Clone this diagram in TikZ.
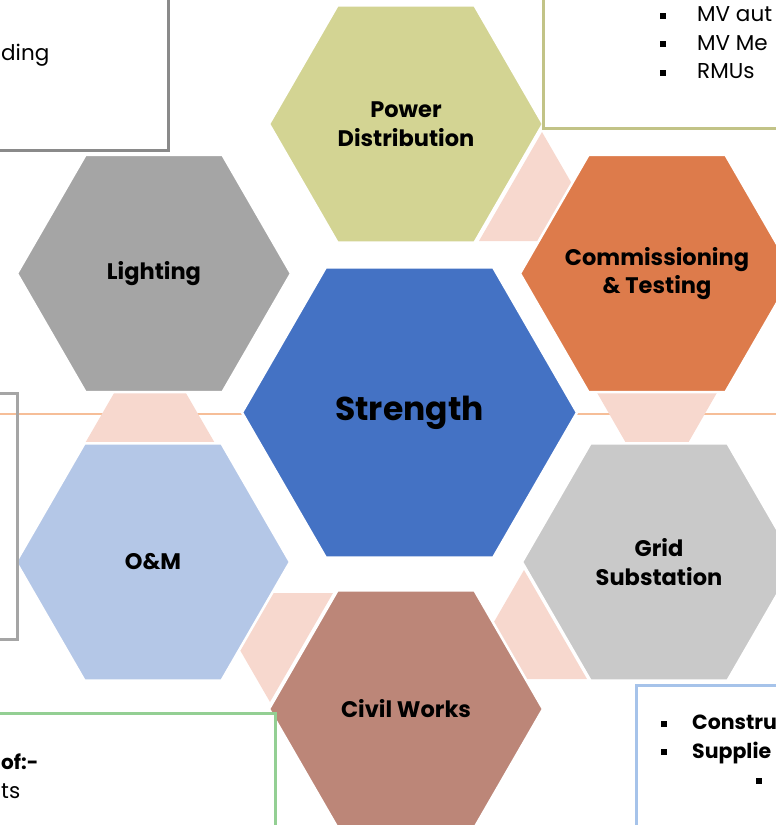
\documentclass[tikz,border=0pt]{standalone}
\usepackage{fontspec}
\setmainfont{Poppins}
\usetikzlibrary{shapes.geometric}
\definecolor{powerclr}{HTML}{D3D493}
\definecolor{lightclr}{HTML}{A5A5A5}
\definecolor{commclr}{HTML}{DD7B4B}
\definecolor{strclr}{HTML}{4472C4}
\definecolor{omclr}{HTML}{B4C7E7}
\definecolor{gridclr}{HTML}{C9C9C9}
\definecolor{civilclr}{HTML}{BC8678}
\definecolor{gapclr}{HTML}{F7D8CE}
\definecolor{lineclr}{HTML}{F6BE98}
\definecolor{boxgray}{HTML}{8A8A8A}
\definecolor{boxgreen}{HTML}{93CF93}
\definecolor{boxblue}{HTML}{A6C3EA}
\tikzset{%
    hexcell/.style={regular polygon, regular polygon sides=6, minimum size=274pt,
      inner sep=0pt, draw=white, line width=2.5pt},
    hexlabel/.style={inner sep=0pt, align=center,
      font=\bfseries\fontsize{22.5}{28.5}\selectfont},
    sidebox/.style={line width=3pt},
    boxtext/.style={inner sep=0pt, align=left, font=\fontsize{21.5}{28.5}\selectfont}
}
\newcommand{\sqbul}{\rule[0.25ex]{6pt}{6pt}}

\begin{document}
\begin{tikzpicture}[x=1pt,y=-1pt]
      \useasboundingbox (0,0) rectangle (776,825);
      \clip (0,0) rectangle (776,825);

      \draw[lineclr,line width=2pt] (0,413.5) -- (776,413.5);

      \fill[gapclr] (542,132) -- (479,241) -- (605,241) -- cycle;
      \fill[gapclr] (588,377) -- (726,377) -- (657,497) -- cycle;
      \fill[gapclr] (524,570) -- (461,679) -- (587,679) -- cycle;
      \fill[gapclr] (207,593) -- (333,593) -- (270,702) -- cycle;
      \fill[gapclr] (150,331) -- (84,445) -- (216,445) -- cycle;

      \node[hexcell, fill=strclr, minimum size=335pt] (strength) at (409.5,412.5) {};
      \node[hexcell, fill=powerclr] (power) at (406,124) {};
      \node[hexcell, fill=commclr] (comm) at (657,273.5) {};
      \node[hexcell, fill=gridclr] (grid) at (659,562) {};
      \node[hexcell, fill=civilclr] (civil) at (406,709) {};
      \node[hexcell, fill=omclr] (om) at (153,562) {};
      \node[hexcell, fill=lightclr] (lighting) at (154,273.5) {};

      \node[hexlabel, font=\bfseries\fontsize{33}{40}\selectfont] (strengthtext) at (strength) {Strength};
      \node[hexlabel] (powertext) at (power) {Power\\Distribution};
      \node[hexlabel] (commtext) at (comm) {Commissioning\\\& Testing};
      \node[hexlabel] (gridtext) at (grid) {Grid\\Substation};
      \node[hexlabel] (civiltext) at (civil) {Civil Works};
      \node[hexlabel] (omtext) at (om) {O\&M};
      \node[hexlabel] (lightingtext) at (lighting) {Lighting};

      \draw[sidebox, boxgray] (-10,-10) rectangle (168,150);
      \node[boxtext, anchor=west] (ding) at (1,55) {ding};

      \draw[sidebox, powerclr!92!black] (543,-10) rectangle (790,128);
      \node[boxtext, anchor=west] (mvlist) at (660,43)
        {\makebox[37pt][l]{\sqbul}MV aut\\\makebox[37pt][l]{\sqbul}MV Me\\\makebox[37pt][l]{\sqbul}RMUs};

      \draw[sidebox, lightclr] (-10,393) rectangle (17,639);

      \draw[sidebox, boxgreen] (-10,713) rectangle (275,840);
      \node[boxtext, anchor=west, font=\bfseries\fontsize{20}{28.5}\selectfont] (scope) at (1,762) {of:-};
      \node[boxtext, anchor=west] (items) at (1,791) {ts};

      \draw[sidebox, boxblue] (636,685) rectangle (790,840);
      \node[boxtext, anchor=west, font=\fontsize{20.5}{28.5}\selectfont] (supply) at (661,751)
        {\makebox[31pt][l]{\sqbul}\textbf{Constru}\\\makebox[31pt][l]{\sqbul}\textbf{Supplie}\\\hspace*{95pt}\sqbul};
\end{tikzpicture}
\end{document}
